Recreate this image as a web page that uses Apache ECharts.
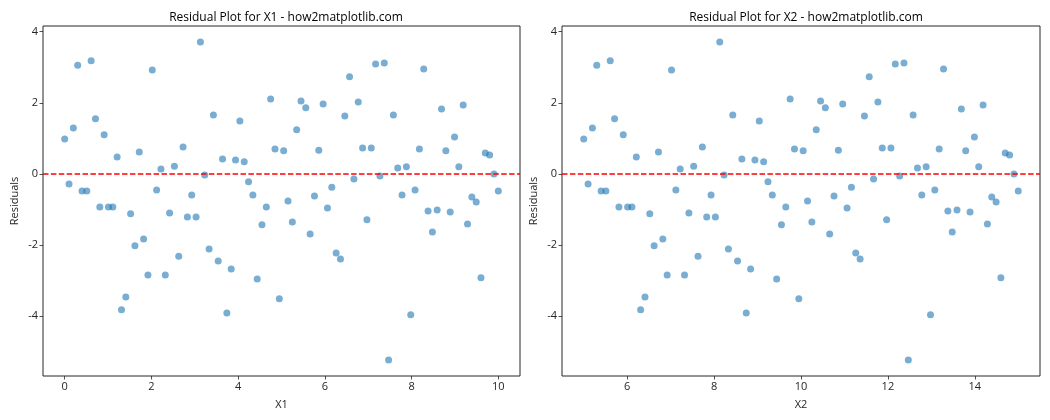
<!DOCTYPE html>
<html>
<head>
<meta charset="utf-8">
<script src="https://cdn.jsdelivr.net/npm/echarts@6/dist/echarts.min.js"></script>
<style>
  html, body { margin: 0; padding: 0; background: #fff; }
  #chart { width: 1050px; height: 420px; }
</style>
</head>
<body>
<div id="chart"></div>
<script>
// 读图得到的数据
var x1Values = [0.00, 0.10, 0.20, 0.30, 0.40, 0.51, 0.61, 0.71, 0.81, 0.91,
  1.01, 1.11, 1.21, 1.31, 1.41, 1.52, 1.62, 1.72, 1.82, 1.92,
  2.02, 2.12, 2.22, 2.32, 2.42, 2.53, 2.63, 2.73, 2.83, 2.93,
  3.03, 3.13, 3.23, 3.33, 3.43, 3.54, 3.64, 3.74, 3.84, 3.94,
  4.04, 4.14, 4.24, 4.34, 4.44, 4.55, 4.65, 4.75, 4.85, 4.95,
  5.05, 5.15, 5.25, 5.35, 5.45, 5.56, 5.66, 5.76, 5.86, 5.96,
  6.06, 6.16, 6.26, 6.36, 6.46, 6.57, 6.67, 6.77, 6.87, 6.97,
  7.07, 7.17, 7.27, 7.37, 7.47, 7.58, 7.68, 7.78, 7.88, 7.98,
  8.08, 8.18, 8.28, 8.38, 8.48, 8.59, 8.69, 8.79, 8.89, 8.99,
  9.09, 9.19, 9.29, 9.39, 9.49, 9.60, 9.70, 9.80, 9.90, 10.00];
var x2Values = [5.00, 5.10, 5.20, 5.30, 5.40, 5.51, 5.61, 5.71, 5.81, 5.91,
  6.01, 6.11, 6.21, 6.31, 6.41, 6.52, 6.62, 6.72, 6.82, 6.92,
  7.02, 7.12, 7.22, 7.32, 7.42, 7.53, 7.63, 7.73, 7.83, 7.93,
  8.03, 8.13, 8.23, 8.33, 8.43, 8.54, 8.64, 8.74, 8.84, 8.94,
  9.04, 9.14, 9.24, 9.34, 9.44, 9.55, 9.65, 9.75, 9.85, 9.95,
  10.05, 10.15, 10.25, 10.35, 10.45, 10.56, 10.66, 10.76, 10.86, 10.96,
  11.06, 11.16, 11.26, 11.36, 11.46, 11.57, 11.67, 11.77, 11.87, 11.97,
  12.07, 12.17, 12.27, 12.37, 12.47, 12.58, 12.68, 12.78, 12.88, 12.98,
  13.08, 13.18, 13.28, 13.38, 13.48, 13.59, 13.69, 13.79, 13.89, 13.99,
  14.09, 14.19, 14.29, 14.39, 14.49, 14.60, 14.70, 14.80, 14.90, 15.00];
var residuals = [0.98, -0.28, 1.29, 3.06, -0.48, -0.48, 3.18, 1.55, -0.93, 1.10,
  -0.93, -0.93, 0.48, -3.82, -3.46, -1.12, -2.02, 0.62, -1.83, -2.84,
  2.92, -0.45, 0.14, -2.84, -1.10, 0.22, -2.31, 0.76, -1.21, -0.59,
  -1.21, 3.71, -0.03, -2.11, 1.66, -2.45, 0.42, -3.91, -2.67, 0.39,
  1.49, 0.34, -0.22, -0.59, -2.95, -1.43, -0.93, 2.11, 0.70, -3.51,
  0.65, -0.76, -1.35, 1.24, 2.05, 1.86, -1.69, -0.62, 0.67, 1.97,
  -0.96, -0.37, -2.22, -2.39, 1.63, 2.73, -0.14, 2.02, 0.73, -1.29,
  0.73, 3.09, -0.06, 3.12, -5.23, 1.66, 0.17, -0.59, 0.20, -3.96,
  -0.45, 0.70, 2.95, -1.04, -1.63, -1.01, 1.83, 0.65, -1.07, 1.04,
  0.20, 1.94, -1.41, -0.65, -0.79, -2.92, 0.59, 0.53, 0.00, -0.48];
var x1Ticks = [0, 2, 4, 6, 8, 10];
var x2Ticks = [6, 8, 10, 12, 14];
var yTicks = [-4, -2, 0, 2, 4];

function pairs(xs, ys) {
  return xs.map(function(x, i) { return [x, ys[i]]; });
}

var font = 'Open Sans, DejaVu Sans, sans-serif';
var textColor = '#262626';

function xAxis(idx, min, max, ticks, name) {
  return {
    type: 'value', gridIndex: idx, min: min, max: max,
    name: name, nameLocation: 'middle', nameGap: 23,
    nameTextStyle: { color: textColor, fontSize: 11, fontFamily: font },
    axisLine: { show: false, onZero: false },
    splitLine: { show: false },
    axisTick: { show: true, length: 3.5, customValues: ticks, lineStyle: { color: textColor, width: 0.8 } },
    axisLabel: { customValues: ticks, color: textColor, fontSize: 11, fontFamily: font, margin: 5 }
  };
}
function yAxis(idx) {
  return {
    type: 'value', gridIndex: idx, min: -5.68, max: 4.16,
    name: 'Residuals', nameLocation: 'middle', nameGap: 23, nameRotate: 90,
    nameTextStyle: { color: textColor, fontSize: 11, fontFamily: font },
    axisLine: { show: false, onZero: false },
    splitLine: { show: false },
    axisTick: { show: true, length: 3.5, customValues: yTicks, lineStyle: { color: textColor, width: 0.8 } },
    axisLabel: { customValues: yTicks, color: textColor, fontSize: 11, fontFamily: font, margin: 5 }
  };
}
function scatter(idx, data) {
  return {
    type: 'scatter', xAxisIndex: idx, yAxisIndex: idx,
    data: data, symbolSize: 7, silent: true,
    itemStyle: { color: '#1f77b4', opacity: 0.6 },
    markLine: {
      silent: true, symbol: 'none', animation: false,
      label: { show: false },
      lineStyle: { color: '#ff0000', type: [5.5, 2.4], width: 1.5 },
      data: [{ yAxis: 0 }]
    }
  };
}

var myChart = echarts.init(document.getElementById('chart'));
var option = {
  animation: false,
  backgroundColor: '#fff',
  title: [
    { text: 'Residual Plot for X1 - how2matplotlib.com', left: 281, top: 7, textAlign: 'center',
      textStyle: { fontSize: 12, fontWeight: 'normal', color: '#000', fontFamily: font } },
    { text: 'Residual Plot for X2 - how2matplotlib.com', left: 801, top: 7, textAlign: 'center',
      textStyle: { fontSize: 12, fontWeight: 'normal', color: '#000', fontFamily: font } }
  ],
  grid: [
    { left: 43, right: 530, top: 26, bottom: 44, show: true, borderColor: textColor, borderWidth: 1, backgroundColor: 'transparent' },
    { left: 562, right: 10, top: 26, bottom: 44, show: true, borderColor: textColor, borderWidth: 1, backgroundColor: 'transparent' }
  ],
  xAxis: [
    xAxis(0, -0.5, 10.5, x1Ticks, 'X1'),
    xAxis(1, 4.5, 15.5, x2Ticks, 'X2')
  ],
  yAxis: [yAxis(0), yAxis(1)],
  series: [
    scatter(0, pairs(x1Values, residuals)),
    scatter(1, pairs(x2Values, residuals))
  ]
};
myChart.setOption(option);
</script>
</body>
</html>
